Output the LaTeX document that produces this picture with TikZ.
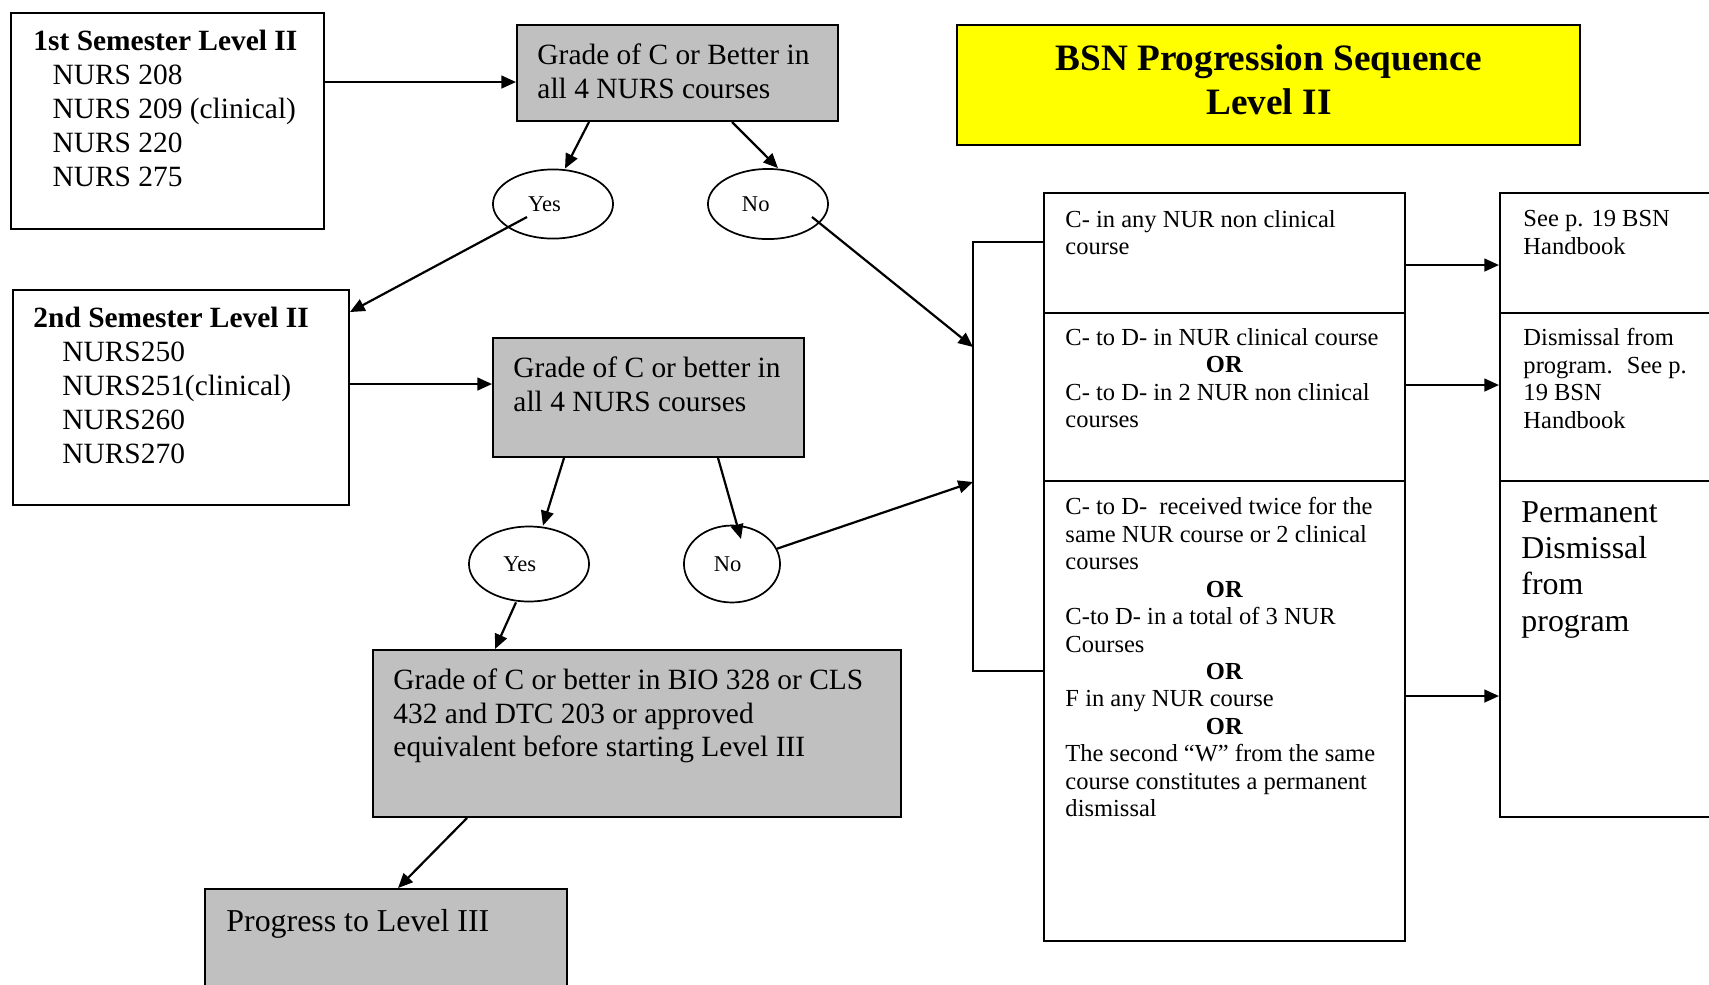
\documentclass[tikz,border=0pt]{standalone}
\usepackage{fontspec}
\setmainfont{Liberation Serif}
\usetikzlibrary{arrows.meta,calc,fit,shapes.geometric}

\definecolor{boxgrey}{RGB}{192,192,192}
\definecolor{titleyellow}{RGB}{255,255,0}

\newcommand{\orline}{\makebox[129.7pt]{\textbf{OR}}}

\tikzset{
  box/.style={draw, line width=0.8pt, inner sep=0pt},
  greybox/.style={box, fill=boxgrey},
  answer/.style={draw, ellipse, line width=0.7pt, inner sep=0pt, font=\fontsize{9.2}{11}\selectfont},
  txt/.style={anchor=north west, inner sep=0pt, align=left},
  big/.style={font=\fontsize{12}{13.8}\selectfont},
  small/.style={font=\fontsize{10}{11.2}\selectfont},
  arrow/.style={->, line width=0.9pt},
  wire/.style={line width=0.8pt},
}

\begin{document}
\begin{tikzpicture}[x=0.408pt,y=-0.408pt,>={Triangle[length=6pt,width=5.2pt]}]
\useasboundingbox (0,0) rectangle (1709,984);
\clip (0,0) rectangle (1709,984);

% left column
\node[box, fit={(11,13) (324,229)}] (sem1) {};
\node[txt, big] at (33,30) (sem1txt) {\textbf{1st Semester Level II}\\
  \hspace*{7.8pt}NURS 208\\
  \hspace*{7.8pt}NURS 209 (clinical)\\
  \hspace*{7.8pt}NURS 220\\
  \hspace*{7.8pt}NURS 275};
\node[greybox, fit={(517,25) (838,121)}] (g1) {};
\node[txt, big] at (537,43) (g1txt) {Grade of C or Better in\\all 4 NURS courses};
\node[answer, minimum width=49pt, minimum height=28.2pt] at (553,204) (yes1) {Yes\hspace*{7pt}};
\node[answer, minimum width=49pt, minimum height=28.6pt] at (768,204) (no1) {No\hspace*{10pt}};

\node[box, fit={(13,290) (349,505)}] (sem2) {};
\node[txt, big] at (33,307) (sem2txt) {\textbf{2nd Semester Level II}\\
  \hspace*{11.8pt}NURS250\\
  \hspace*{11.8pt}NURS251(clinical)\\
  \hspace*{11.8pt}NURS260\\
  \hspace*{11.8pt}NURS270};
\node[greybox, fit={(493,338) (804,457)}] (g2) {};
\node[txt, big] at (513,356) (g2txt) {Grade of C or better in\\all 4 NURS courses};
\node[answer, minimum width=49pt, minimum height=30.6pt] at (529,564) (yes2) {Yes\hspace*{7.5pt}};
\node[answer, minimum width=39.2pt, minimum height=31.4pt] at (732,564) (no2) {No\hspace*{3.6pt}};

\node[greybox, fit={(373,650) (901,817)}] (g3) {};
\node[txt, big] at (393,668) (g3txt) {Grade of C or better in BIO 328 or CLS\\432 and DTC 203 or approved\\equivalent before starting Level III};
\node[greybox, fit={(205,889) (567,1000)}] (prog) {};
\node[txt, font=\fontsize{13}{15}\selectfont] at (226,909) (progtxt) {Progress to Level III};

% title
\node[box, fill=titleyellow, fit={(957,25) (1580,145)}] (title) {};
\node[anchor=north, inner sep=0pt, align=center, font=\fontsize{15.2}{18.2}\selectfont\bfseries] at (1269,44) (titletxt) {BSN Progression Sequence\\Level II};

% outcome table
\node[box, fit={(1044,193) (1405,313)}] (cell1) {};
\node[box, fit={(1044,313) (1405,481)}] (cell2) {};
\node[box, fit={(1044,481) (1405,941)}] (cell3) {};
\node[txt, small] at (1065,210) (cell1txt) {C- in any NUR non clinical\\course};
\node[txt, small] at (1065,328) (cell2txt) {C- to D- in NUR clinical course\\
  \orline\\
  C- to D- in 2 NUR non clinical\\
  courses};
\node[txt, small] at (1065,497) (cell3txt) {C- to D-~ received twice for the\\
  same NUR course or 2 clinical\\
  courses\\
  \orline\\
  C-to D- in a total of 3 NUR\\
  Courses\\
  \orline\\
  F in any NUR course\\
  \orline\\
  The second “W” from the same\\
  course constitutes a permanent\\
  dismissal};

\node[box, fit={(1500,193) (1720,313)}] (rt1) {};
\node[box, fit={(1500,313) (1720,481)}] (rt2) {};
\node[box, fit={(1500,481) (1720,817)}] (rt3) {};
\node[txt, small] at (1523,210) (rt1txt) {See p. 19 BSN\\Handbook};
\node[txt, small] at (1523,328) (rt2txt) {Dismissal from\\program.~ See p.\\19 BSN\\Handbook};
\node[txt, font=\fontsize{13}{14.8}\selectfont] at (1521,501) (rt3txt) {Permanent\\Dismissal\\from\\program};

% bracket in front of the table
\coordinate (brtop) at (973,242);
\coordinate (brbot) at (973,671);
\coordinate (in1) at (973,347);
\coordinate (in2) at (973,482);
\draw[wire] (brtop -| cell1.west) -- (brtop) -- (brbot) -- (brbot -| cell3.west);

% connectors
\draw[arrow] ($(sem1.north east)+(0,70)$) -- ($(g1.north west)+(0,58)$);
\draw[arrow] ($(g1.south west)+(73,0)$) -- ($(yes1.north)+(12,0)$);
\draw[arrow] ($(g1.south west)+(216,0)$) -- ($(no1.north)+(10,0)$);
\draw[arrow] ($(yes1.center)+(-26,13)$) -- ($(sem2.north east)+(0,23)$);
\draw[arrow] ($(no1.center)+(44,13)$) -- (in1);
\draw[arrow] ($(sem2.north east)+(0,95)$) -- ($(g2.north west)+(0,47)$);
\draw[arrow] ($(g2.south west)+(72,0)$) -- ($(yes2.north)+(14,0)$);
\draw[arrow] ($(g2.south west)+(226,0)$) -- ($(no2.center)+(9,-25)$);
\draw[arrow] (no2) -- (in2);
\draw[arrow] ($(yes2.south)+(-13,0)$) -- ($(g3.north west)+(123,0)$);
\draw[arrow] ($(g3.south west)+(95,0)$) -- ($(prog.north west)+(194,0)$);
\draw[arrow] ($(cell1.north east)+(0,73)$) -- ($(rt1.north west)+(0,73)$);
\draw[arrow] ($(cell2.north east)+(0,73)$) -- ($(rt2.north west)+(0,73)$);
\draw[arrow] ($(cell3.north east)+(0,216)$) -- ($(rt3.north west)+(0,216)$);
\end{tikzpicture}
\end{document}
